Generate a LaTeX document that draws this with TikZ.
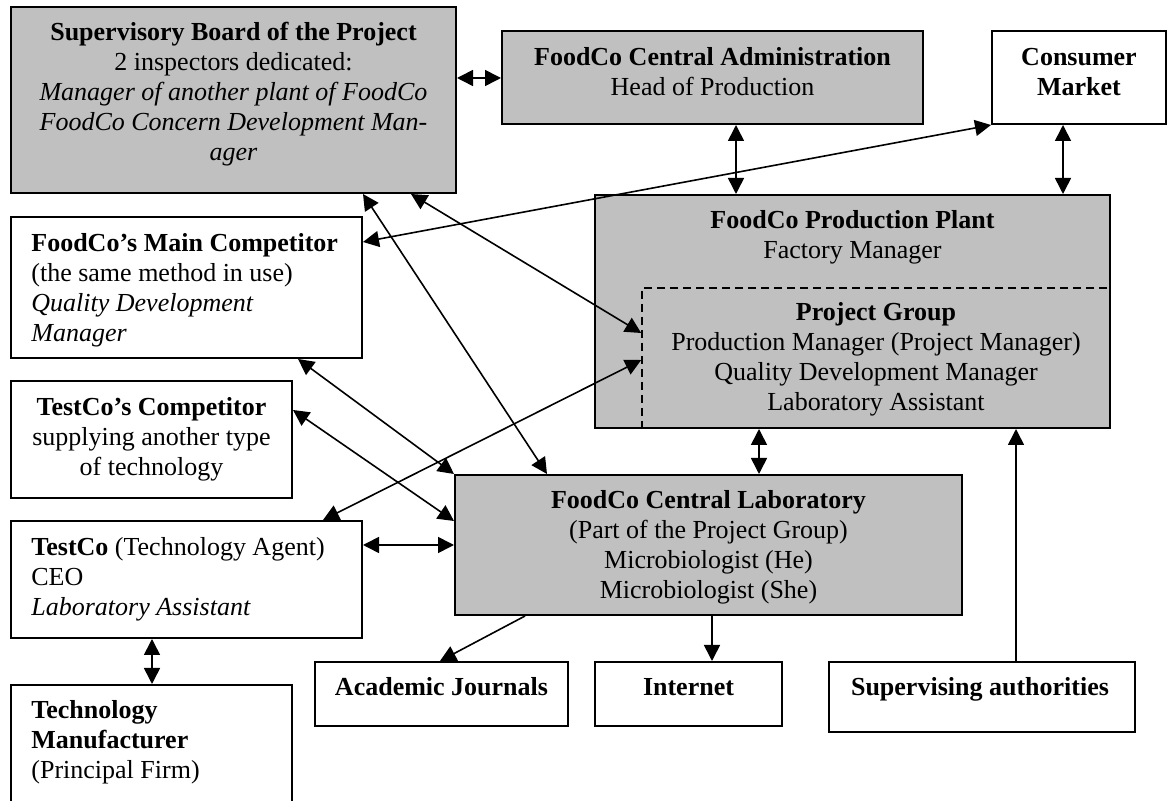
\documentclass[tikz,border=0pt]{standalone}
\usepackage{fontspec}
\setmainfont{Liberation Serif}
\usetikzlibrary{arrows.meta,fit}
\definecolor{panelgray}{RGB}{192,192,192}
\tikzset{
  plainbox/.style={draw=black, line width=1pt, inner sep=0pt, fill=white},
  shadedbox/.style={plainbox, fill=panelgray},
  groupframe/.style={draw=black, line width=0.8pt, dash pattern=on 4pt off 2.5pt, inner sep=0pt},
  boxtext/.style={inner sep=0pt, font=\fontsize{13}{15}\selectfont, align=center, anchor=north},
  boxtextleft/.style={boxtext, align=left, anchor=north west},
  twoway/.style={line width=0.8pt, {Triangle[length=8pt,width=8pt]}-{Triangle[length=8pt,width=8pt]}},
  oneway/.style={line width=0.8pt, -{Triangle[length=8pt,width=8pt]}},
}
\begin{document}
\begin{tikzpicture}[x=0.5pt,y=-0.5pt]
\useasboundingbox (0,0) rectangle (1168,801);
\clip (0,0) rectangle (1168,801);

% boxes
\node[shadedbox, fit={(11,7) (456,193)}] (board) {};
\node[shadedbox, fit={(502,31) (923,124)}] (admin) {};
\node[plainbox, fit={(992,31) (1166,124)}] (consumer) {};
\node[shadedbox, fit={(595,195) (1110,428)}] (plant) {};
\node[groupframe, fit={(642,288) (1110,428)}] (group) {};
\node[plainbox, fit={(11,217) (362,358)}] (maincomp) {};
\node[plainbox, fit={(11,381) (292,498)}] (tcomp) {};
\node[plainbox, fit={(11,521) (362,638)}] (testco) {};
\node[plainbox, fit={(11,685) (292,815)}] (techmaker) {};
\node[shadedbox, fit={(455,475) (962,615)}] (lab) {};
\node[plainbox, fit={(315,662) (568,726)}] (journals) {};
\node[plainbox, fit={(595,662) (782,726)}] (internet) {};
\node[plainbox, fit={(829,662) (1135,732)}] (supervising) {};

% texts
\node[boxtext] (boardtext) at (233.5,19) {\strut\textbf{Supervisory Board of the Project}\\2 inspectors dedicated:\\\textit{Manager of another plant of FoodCo}\\\textit{FoodCo Concern Development Man-}\\\textit{ager}};
\node[boxtext] (admintext) at (712.5,44) {\strut\textbf{FoodCo Central Administration}\\Head of Production};
\node[boxtext] (consumertext) at (1079,44) {\strut\textbf{Consumer}\\\textbf{Market}};
\node[boxtext] (planttext) at (852.5,207) {\strut\textbf{FoodCo Production Plant}\\Factory Manager};
\node[boxtext] (grouptext) at (876,299) {\strut\textbf{Project Group}\\Production Manager (Project Manager)\\Quality Development Manager\\Laboratory Assistant};
\node[boxtextleft] (maincomptext) at (31,230) {\strut\textbf{FoodCo's Main Competitor}\\(the same method in use)\\\textit{Quality Development}\\\textit{Manager}};
\node[boxtext] (tcomptext) at (151.5,394) {\strut\textbf{TestCo's Competitor}\\supplying another type\\of technology};
\node[boxtextleft] (testcotext) at (31,534) {\strut\textbf{TestCo} (Technology Agent)\\CEO\\\textit{Laboratory Assistant}};
\node[boxtextleft] (techmakertext) at (31,697) {\strut\textbf{Technology}\\\textbf{Manufacturer}\\(Principal Firm)};
\node[boxtext] (labtext) at (708.5,487) {\strut\textbf{FoodCo Central Laboratory}\\(Part of the Project Group)\\Microbiologist (He)\\Microbiologist (She)};
\node[boxtext] (journalstext) at (441.5,674) {\strut\textbf{Academic Journals}};
\node[boxtext] (internettext) at (688.5,674) {\strut\textbf{Internet}};
\node[boxtext] (supervisingtext) at (980,674) {\strut\textbf{Supervising authorities}};

% connectors
\draw[twoway] (board.east |- 0,78) -- (admin.west |- 0,78);
\draw[twoway] (admin.south -| 736,0) -- (plant.north -| 736,0);
\draw[twoway] (consumer.south -| 1063,0) -- (plant.north -| 1063,0);
\draw[twoway] (plant.south -| 759,0) -- (lab.north -| 759,0);
\draw[oneway] (supervising.north -| 1016,0) -- (plant.south -| 1016,0);
\draw[oneway] (lab.south -| 712,0) -- (internet.north -| 712,0);
\draw[oneway] (lab.south -| 525,0) -- (journals.north -| 440,0);
\draw[twoway] (testco.east |- 0,545) -- (lab.west |- 0,545);
\draw[twoway] (testco.south -| 152,0) -- (techmaker.north -| 152,0);
\draw[twoway] (maincomp.east |- 0,242) -- (consumer.south west);
\draw[twoway] (board.south -| 363,0) -- (lab.north -| 547,0);
\draw[twoway] (board.south -| 411,0) -- (group.west |- 0,333);
\draw[twoway] (maincomp.south -| 298,0) -- (lab.north west);
\draw[twoway] (tcomp.east |- 0,410) -- (lab.west |- 0,521);
\draw[twoway] (testco.north -| 323,0) -- (group.west |- 0,360);
\end{tikzpicture}
\end{document}
